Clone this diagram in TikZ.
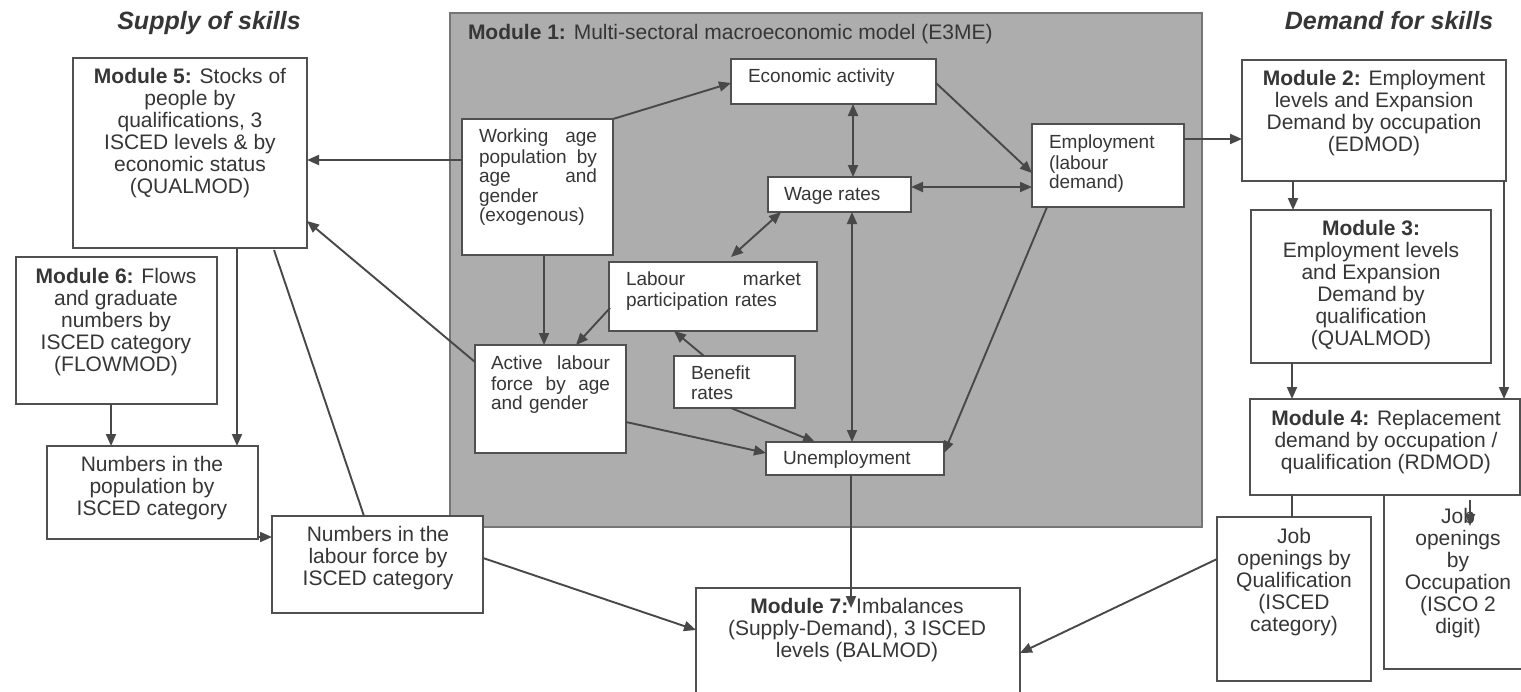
\documentclass[tikz,border=0pt]{standalone}
\usepackage{fontspec}
\setmainfont{Liberation Sans}
\usetikzlibrary{arrows.meta,calc}
\definecolor{tc}{HTML}{363636}
\definecolor{lc}{HTML}{484848}
\definecolor{bc}{HTML}{505050}
\definecolor{gf}{HTML}{ADADAD}
\definecolor{gb}{HTML}{767676}
\newcommand\bx[5]{\node[box,minimum width={(#4)-(#2)},minimum height={(#5)-(#3)}] (#1) at ({((#2)+(#4))/2},{((#3)+(#5))/2}) {};}
\tikzset{
  box/.style={draw=bc,line width=1.8pt,fill=white,inner sep=0pt,outer sep=0pt},
  txt/.style={inner sep=0pt,outer sep=0pt,text=tc,font=\fontsize{21}{22}\selectfont},
  stxt/.style={inner sep=0pt,outer sep=0pt,text=tc,font=\fontsize{19}{19.5}\selectfont,anchor=north west},
  ttl/.style={inner sep=0pt,outer sep=0pt,text=tc,font=\fontsize{25}{28}\selectfont\bfseries\itshape,anchor=base},
  tip/.tip={Triangle[length=12pt,width=10pt]},
  ln/.style={draw=lc,line width=1.9pt},
  ar/.style={ln,-tip},
  dar/.style={ln,tip-tip},
}
\begin{document}
\begin{tikzpicture}[x=1pt,y=-1pt]
\useasboundingbox (0,0) rectangle (1521,691);
\fill[white] (0,0) rectangle (1521,691);
% Module 1 background
\node[draw=gb,fill=gf,line width=1.5pt,inner sep=0pt,outer sep=0pt,minimum width=752,minimum height=514] (mod1) at (826,270) {};
\node[txt,anchor=north west] (mod1t) at (468,24) {\strut\textbf{Module 1:} Multi-sectoral macroeconomic model (E3ME)};
% titles
\node[ttl] (sup) at (209,29) {Supply of skills};
\node[ttl] (dem) at (1389,29) {Demand for skills};
% boxes
\bx{mod5}{73}{58}{307}{248}
\bx{mod6}{16}{257}{217}{404}
\bx{npop}{47}{446}{258}{539}
\bx{nlab}{272}{516}{483}{613}
\bx{ea}{731}{59}{936}{104}
\bx{wa}{462}{119}{613}{255}
\bx{wr}{768}{177}{911}{212}
\bx{emp}{1032}{124}{1184}{207}
\bx{lm}{609}{262}{817}{331}
\bx{al}{475}{345}{626}{453}
\bx{br}{674}{356}{795}{408}
\bx{un}{766}{442}{944}{475}
\bx{mod7}{696}{588}{1020}{700}
\bx{mod2}{1242}{60}{1506}{181}
\bx{mod3}{1251}{210}{1491}{363}
\bx{mod4}{1250}{399}{1520}{495}
\bx{jq}{1217}{517}{1371}{681}
\bx{jo}{1384}{495}{1530}{669}
% texts
\node[txt,anchor=north,align=center] (mod5t) at (190,68) {\strut\textbf{Module 5:} Stocks of\\people by\\qualifications, 3\\ISCED levels \& by\\economic status\\(QUALMOD)};
\node[txt,anchor=north,align=center] (mod6t) at (116,268) {\strut\textbf{Module 6:} Flows\\and graduate\\numbers by\\ISCED category\\(FLOWMOD)};
\node[txt,anchor=north,align=center] (npopt) at (152,456) {\strut Numbers in the\\population by\\ISCED category};
\node[txt,anchor=north,align=center] (nlabt) at (378,526) {\strut Numbers in the\\labour force by\\ISCED category};
\node[txt,anchor=north,align=center] (mod7t) at (857,598) {\strut\textbf{Module 7:} Imbalances\\(Supply-Demand), 3 ISCED\\levels (BALMOD)};
\node[txt,anchor=north,align=center] (mod2t) at (1374,70) {\strut\textbf{Module 2:} Employment\\levels  and Expansion\\Demand by occupation\\(EDMOD)};
\node[txt,anchor=north,align=center] (mod3t) at (1371,220) {\strut\textbf{Module 3:}\\Employment levels\\and Expansion\\Demand by\\qualification\\(QUALMOD)};
\node[txt,anchor=north,align=center] (mod4t) at (1386,410) {\strut\textbf{Module 4:} Replacement\\demand by occupation /\\qualification (RDMOD)};
\node[txt,anchor=north,align=center] (jqt) at (1294,528) {\strut Job\\openings by\\Qualification\\(ISCED\\category)};
\node[txt,anchor=north,align=center] (jot) at (1458,508) {\strut Job\\openings\\by\\Occupation\\(ISCO 2\\digit)};
\node[stxt] (eat) at (748,69) {\strut Economic activity};
\node[stxt,text width=118,align=left] (wat) at (479,129) {\strut Working\hfill age\\population\hfill by\\age\hfill and\\gender\\(exogenous)};
\node[stxt] (wrt) at (784,187) {\strut Wage rates};
\node[stxt,align=left] (empt) at (1049,135) {\strut Employment\\(labour\\demand)};
\node[stxt,text width=175,align=left] (lmt) at (626,272) {\strut Labour\hfill market\\participation rates};
\node[stxt,text width=119,align=left] (alt) at (491,356) {\strut Active\hfill labour\\force\hfill by\hfill age\\and gender};
\node[stxt,align=left] (brt) at (691,366) {\strut Benefit\\rates};
\node[stxt] (unt) at (783,451) {\strut Unemployment};
% connectors
\draw[ar] ($(wa.north west)+(0,41)$) -- ($(mod5.north west)+(234,102)$);
\draw[ar] ($(wa.north west)+(151,0)$) -- ($(ea.north west)+(0,24)$);
\draw[ar] ($(ea.north west)+(205,24)$) -- ($(emp.north west)+(0,49)$);
\draw[dar] ($(ea.north west)+(122,45)$) -- ($(wr.north west)+(85,0)$);
\draw[dar] ($(emp.north west)+(0,63)$) -- ($(wr.north west)+(143,10)$);
\draw[dar] ($(wr.north west)+(13,35)$) -- ($(lm.north west)+(122,-5)$);
\draw[dar] ($(wr.north west)+(84,35)$) -- ($(un.north west)+(86,0)$);
\draw[ar] ($(wa.north west)+(82,136)$) -- ($(al.north west)+(69,0)$);
\draw[ar] ($(lm.north west)+(1,46)$) -- ($(al.north west)+(101,0)$);
\draw[ar] ($(br.north west)+(30,0)$) -- ($(lm.north west)+(65,69)$);
\draw[ar] ($(br.north west)+(57,52)$) -- ($(un.north west)+(49,0)$);
\draw[ar] ($(al.north west)+(151,77)$) -- ($(un.north west)+(0,11)$);
\draw[ar] ($(emp.north west)+(15,83)$) -- ($(un.north west)+(178,11)$);
\draw[ar] ($(al.north west)+(0,17)$) -- ($(mod5.north west)+(234,163)$);
\draw[ar] ($(emp.north west)+(152,15)$) -- ($(mod2.north west)+(0,79)$);
\draw[ar] ($(un.north west)+(85,33)$) -- ($(mod7.north west)+(155,20)$);
\draw[ar] ($(mod5.north west)+(164,190)$) -- ($(npop.north west)+(190,0)$);
\draw[ar] ($(mod6.north west)+(95,147)$) -- ($(npop.north west)+(64,0)$);
\draw[ar] ($(npop.north west)+(211,91)$) -- ($(nlab.north west)+(0,21)$);
\draw[ln] ($(nlab.north west)+(92,0)$) -- ($(mod5.north west)+(201,192)$);
\draw[ar] ($(nlab.north west)+(211,42)$) -- ($(mod7.north west)+(0,42)$);
\draw[ar] ($(mod2.north west)+(51,121)$) -- ($(mod3.north west)+(42,0)$);
\draw[ar] ($(mod2.north west)+(262,121)$) -- ($(mod4.north west)+(254,0)$);
\draw[ar] ($(mod3.north west)+(41,153)$) -- ($(mod4.north west)+(42,0)$);
\draw[ln] ($(mod4.north west)+(42,96)$) -- ($(jq.north west)+(75,0)$);
\draw[ar] ($(mod4.north west)+(220,101)$) -- ($(jo.north west)+(86,31)$);
\draw[ar] ($(jq.north west)+(0,42)$) -- ($(mod7.north west)+(324,65)$);
\end{tikzpicture}
\end{document}
